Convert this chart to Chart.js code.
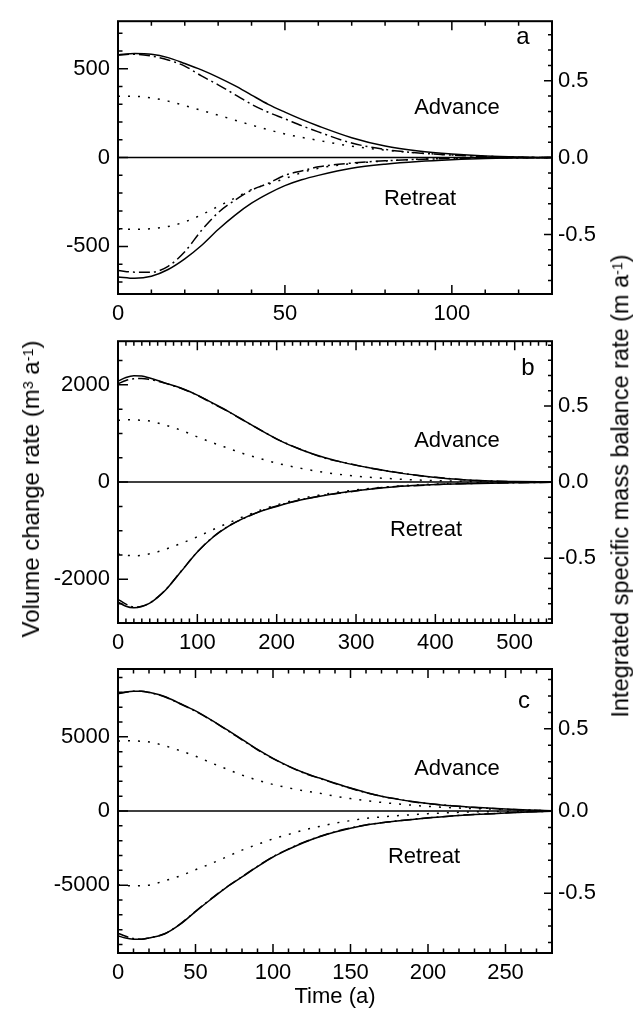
<!DOCTYPE html>
<html>
<head>
<meta charset="utf-8">
<script src="https://cdn.jsdelivr.net/npm/chart.js@4.4.0/dist/chart.umd.min.js"></script>
<style>
  body { margin: 0; background: #fff; }
  #wrap { position: relative; width: 633px; height: 1010px; font-family: 'Liberation Sans', Arial, sans-serif; color: #000; }
  canvas { position: absolute; left: 0; }
  .lbl { position: absolute; transform: translate(-50%, -50%); font-size: 22px; line-height: 1; white-space: nowrap; }
  .big { font-size: 24px; }
  .vt { transform: translate(-50%, -50%) rotate(-90deg); }
  sup { font-size: 0.6em; vertical-align: 0.42em; line-height: 0; }
</style>
</head>
<body>
<div id="wrap">
  <canvas id="chartA" width="633" height="340" style="top:0px"></canvas>
  <canvas id="chartB" width="633" height="340" style="top:320px"></canvas>
  <canvas id="chartC" width="633" height="370" style="top:640px"></canvas>

  <div class="lbl big" style="left:523px;top:36px">a</div>
  <div class="lbl" style="left:457px;top:107px">Advance</div>
  <div class="lbl" style="left:420px;top:198px">Retreat</div>

  <div class="lbl big" style="left:528px;top:367px">b</div>
  <div class="lbl" style="left:457px;top:440px">Advance</div>
  <div class="lbl" style="left:426px;top:529px">Retreat</div>

  <div class="lbl big" style="left:524px;top:700px">c</div>
  <div class="lbl" style="left:457px;top:768px">Advance</div>
  <div class="lbl" style="left:424px;top:856px">Retreat</div>

  <div class="lbl vt" style="left:31px;top:489px;font-size:24px">Volume change rate (m<sup>3</sup> a<sup>-1</sup>)</div>
  <div class="lbl vt" style="left:621px;top:486px;font-size:23.5px">Integrated specific mass balance rate (m a<sup>-1</sup>)</div>
  <div class="lbl" style="left:335px;top:996px">Time (a)</div>
</div>
<script>
// panel a
var timeA = [0, 5, 10, 15, 20, 25, 30, 35, 40, 45, 50, 55, 60, 70, 80, 90, 100, 110, 120, 130];
var advSolidA = [578, 586, 582, 563, 530, 494, 452, 405, 352, 300, 256, 215, 178, 112, 65, 37, 20, 9, 3, 0];
var advDashA  = [578, 582, 572, 550, 515, 460, 410, 355, 300, 255, 218, 180, 145, 82, 46, 26, 14, 6, 2, 0];
var advDotA   = [346, 345, 336, 318, 293, 266, 239, 211, 183, 157, 133, 114, 97, 64, 42, 26, 15, 8, 3, 0];
var retSolidA = [-672, -680, -668, -630, -570, -495, -405, -325, -257, -203, -158, -125, -100, -60, -37, -22, -12, -5, -2, 0];
var retDashA  = [-636, -645, -645, -612, -530, -410, -310, -240, -183, -145, -100, -75, -52, -31, -18, -10, -5, -2, -1, 0];
var retDotA   = [-402, -404, -400, -388, -362, -322, -275, -228, -180, -150, -118, -85, -60, -34, -19, -9, -5, -2, -1, 0];
var xTicksA = [0, 50, 100];
var yTicksA = [-500, 0, 500];

// panel b
var timeB = [0, 10, 20, 30, 40, 50, 60, 80, 100, 120, 140, 160, 180, 200, 230, 260, 290, 320, 350, 380, 410, 440, 470, 500, 547];
var advSolidB = [2075, 2150, 2185, 2180, 2140, 2090, 2035, 1930, 1790, 1620, 1445, 1255, 1065, 885, 670, 505, 380, 285, 200, 135, 80, 45, 22, 10, 3];
var advDashB  = [2020, 2090, 2125, 2130, 2110, 2075, 2030, 1925, 1785, 1612, 1440, 1250, 1068, 888, 675, 495, 385, 280, 205, 130, 85, 42, 25, 8, 3];
var advDotB   = [1270, 1280, 1280, 1270, 1255, 1215, 1170, 1065, 930, 805, 690, 575, 480, 390, 285, 200, 140, 95, 65, 42, 27, 15, 8, 4, 1];
var retSolidB = [-2465, -2555, -2585, -2560, -2490, -2370, -2220, -1830, -1440, -1130, -900, -730, -600, -500, -370, -275, -200, -140, -95, -65, -45, -32, -22, -14, -5];
var retDashB  = [-2410, -2510, -2570, -2555, -2485, -2365, -2215, -1825, -1435, -1125, -895, -735, -595, -490, -365, -270, -205, -135, -90, -68, -42, -30, -20, -12, -4];
var retDotB   = [-1480, -1505, -1515, -1505, -1475, -1435, -1380, -1258, -1125, -975, -835, -700, -575, -470, -340, -250, -180, -125, -85, -55, -34, -20, -11, -5, -1];
var xTicksB = [0, 100, 200, 300, 400, 500];
var yTicksB = [-2000, 0, 2000];

// panel c
var timeC = [0, 5, 10, 15, 20, 30, 40, 50, 60, 70, 80, 90, 100, 110, 120, 130, 140, 150, 160, 170, 180, 190, 200, 215, 230, 250, 265, 280];
var advSolidC = [7930, 8030, 8080, 8080, 8000, 7720, 7250, 6750, 6150, 5500, 4830, 4150, 3550, 3030, 2580, 2220, 1880, 1550, 1250, 1000, 800, 640, 510, 350, 250, 130, 60, 10];
var advDashC  = [7900, 8010, 8070, 8075, 7990, 7700, 7230, 6720, 6130, 5470, 4800, 4130, 3530, 3010, 2560, 2200, 1860, 1530, 1230, 990, 815, 620, 500, 360, 240, 120, 55, 10];
var advDotC   = [4720, 4740, 4730, 4700, 4660, 4400, 4070, 3700, 3250, 2840, 2420, 2080, 1790, 1560, 1360, 1200, 1000, 840, 700, 580, 480, 390, 310, 220, 160, 100, 55, 15];
var retSolidC = [-8420, -8570, -8640, -8650, -8560, -8290, -7650, -6780, -5950, -5150, -4450, -3750, -3100, -2580, -2120, -1740, -1420, -1160, -950, -800, -680, -570, -460, -340, -240, -140, -60, -10];
var retDashC  = [-8240, -8450, -8600, -8640, -8555, -8280, -7630, -6760, -5930, -5130, -4430, -3730, -3080, -2560, -2100, -1720, -1400, -1150, -940, -790, -670, -560, -470, -330, -230, -130, -55, -10];
var retDotC   = [-4980, -5030, -5050, -5040, -5000, -4710, -4380, -3960, -3550, -3100, -2640, -2250, -1880, -1580, -1280, -1040, -820, -650, -500, -400, -320, -250, -180, -110, -60, -30, -15, -5];
var xTicksC = [0, 50, 100, 150, 200, 250];
var yTicksC = [-5000, 0, 5000];

var y2Ticks = [-0.5, 0, 0.5];

var FONT = "'Liberation Sans', Arial, sans-serif";
var DASHDOT = [11, 4, 2, 4];
var DOTTED = [2, 8];

// inward tick marks on all four sides plus the frame
var frameTicks = {
    id: 'frameTicks',
    afterDatasetsDraw: function (chart, args, opts) {
        var ctx = chart.ctx, a = chart.chartArea, s = chart.scales;
        function each(sc, minor, major, fn) {
            var i0 = Math.ceil(sc.min / minor - 1e-9), i1 = Math.floor(sc.max / minor + 1e-9);
            for (var i = i0; i <= i1; i++) {
                var v = i * minor;
                var r = v / major;
                fn(sc.getPixelForValue(v), Math.abs(r - Math.round(r)) < 1e-6);
            }
        }
        ctx.save();
        ctx.strokeStyle = '#000';
        ctx.lineWidth = 1.5;
        ctx.beginPath();
        each(s.x, opts.xMinor, opts.xMajor, function (p, M) {
            var l = M ? 9 : 4.5;
            ctx.moveTo(p, a.bottom); ctx.lineTo(p, a.bottom - l);
            ctx.moveTo(p, a.top); ctx.lineTo(p, a.top + l);
        });
        each(s.y, opts.yMinor, opts.yMajor, function (p, M) {
            var l = M ? 10 : 4.5;
            ctx.moveTo(a.left, p); ctx.lineTo(a.left + l, p);
        });
        each(s.y2, 0.1, 0.5, function (p, M) {
            var l = M ? 8 : 4;
            ctx.moveTo(a.right, p); ctx.lineTo(a.right - l, p);
        });
        ctx.stroke();
        ctx.lineWidth = 2;
        ctx.strokeRect(a.left, a.top, a.width, a.height);
        ctx.restore();
    }
};

function series(t, v, dash) {
    return {
        data: t.map(function (x, i) { return { x: x, y: v[i] }; }),
        borderColor: '#000',
        borderWidth: 1.5,
        borderDash: dash,
        pointRadius: 0,
        cubicInterpolationMode: 'monotone',
        fill: false
    };
}

function fixedTicks(list) {
    return function (sc) { sc.ticks = list.map(function (v) { return { value: v }; }); };
}

function makePanel(id, p) {
    var datasets = [
        series(p.t, p.advSolid, []),
        series(p.t, p.advDash, DASHDOT),
        series(p.t, p.advDot, DOTTED),
        series(p.t, p.retSolid, []),
        series(p.t, p.retDash, DASHDOT),
        series(p.t, p.retDot, DOTTED),
        series([0, p.xMax], [0, 0], [])
    ];
    return new Chart(document.getElementById(id), {
        type: 'line',
        data: { datasets: datasets },
        plugins: [frameTicks],
        options: {
            responsive: false,
            animation: false,
            events: [],
            layout: { padding: { top: p.padTop, left: 0, right: 0, bottom: 0 } },
            plugins: {
                legend: { display: false },
                tooltip: { enabled: false },
                frameTicks: { xMinor: p.xMinor, xMajor: p.xMajor, yMinor: p.yMinor, yMajor: p.yMajor }
            },
            scales: {
                x: {
                    type: 'linear', min: 0, max: p.xMax,
                    grid: { display: false, drawTicks: false }, border: { display: false },
                    afterBuildTicks: fixedTicks(p.xTicks),
                    ticks: { autoSkip: false, color: '#000', padding: 7,
                             maxRotation: 0, font: { family: FONT, size: 22 },
                             callback: function (v) { return String(v); } },
                    afterFit: function (sc) { sc.height = p.xHeight; }
                },
                y: {
                    position: 'left', min: -p.yMax, max: p.yMax,
                    grid: { display: false, drawTicks: false }, border: { display: false },
                    afterBuildTicks: fixedTicks(p.yTicks),
                    ticks: { autoSkip: false, color: '#000', padding: 8,
                             font: { family: FONT, size: 22 },
                             callback: function (v) { return String(v); } },
                    afterFit: function (sc) { sc.width = 118; }
                },
                y2: {
                    position: 'right', min: -p.y2Max, max: p.y2Max,
                    grid: { display: false, drawTicks: false }, border: { display: false },
                    afterBuildTicks: fixedTicks(y2Ticks),
                    ticks: { autoSkip: false, color: '#000', padding: 6,
                             font: { family: FONT, size: 22 },
                             callback: function (v) { return v.toFixed(1); } },
                    afterFit: function (sc) { sc.width = 81; }
                }
            }
        }
    });
}

makePanel('chartA', {
    t: timeA, advSolid: advSolidA, advDash: advDashA, advDot: advDotA,
    retSolid: retSolidA, retDash: retDashA, retDot: retDotA,
    xTicks: xTicksA, yTicks: yTicksA,
    xMax: 130, xMajor: 50, xMinor: 10, yMax: 768, yMajor: 500, yMinor: 100, y2Max: 0.8875,
    padTop: 10, xHeight: 46
});
makePanel('chartB', {
    t: timeB, advSolid: advSolidB, advDash: advDashB, advDot: advDotB,
    retSolid: retSolidB, retDash: retDashB, retDot: retDotB,
    xTicks: xTicksB, yTicks: yTicksB,
    xMax: 547, xMajor: 100, xMinor: 10, yMax: 2898, yMajor: 2000, yMinor: 500, y2Max: 0.926,
    padTop: 19, xHeight: 37
});
makePanel('chartC', {
    t: timeC, advSolid: advSolidC, advDash: advDashC, advDot: advDotC,
    retSolid: retSolidC, retDash: retDashC, retDot: retDotC,
    xTicks: xTicksC, yTicks: yTicksC,
    xMax: 280, xMajor: 50, xMinor: 10, yMax: 9575, yMajor: 5000, yMinor: 1000, y2Max: 0.864,
    padTop: 29, xHeight: 57
});
</script>
</body>
</html>
